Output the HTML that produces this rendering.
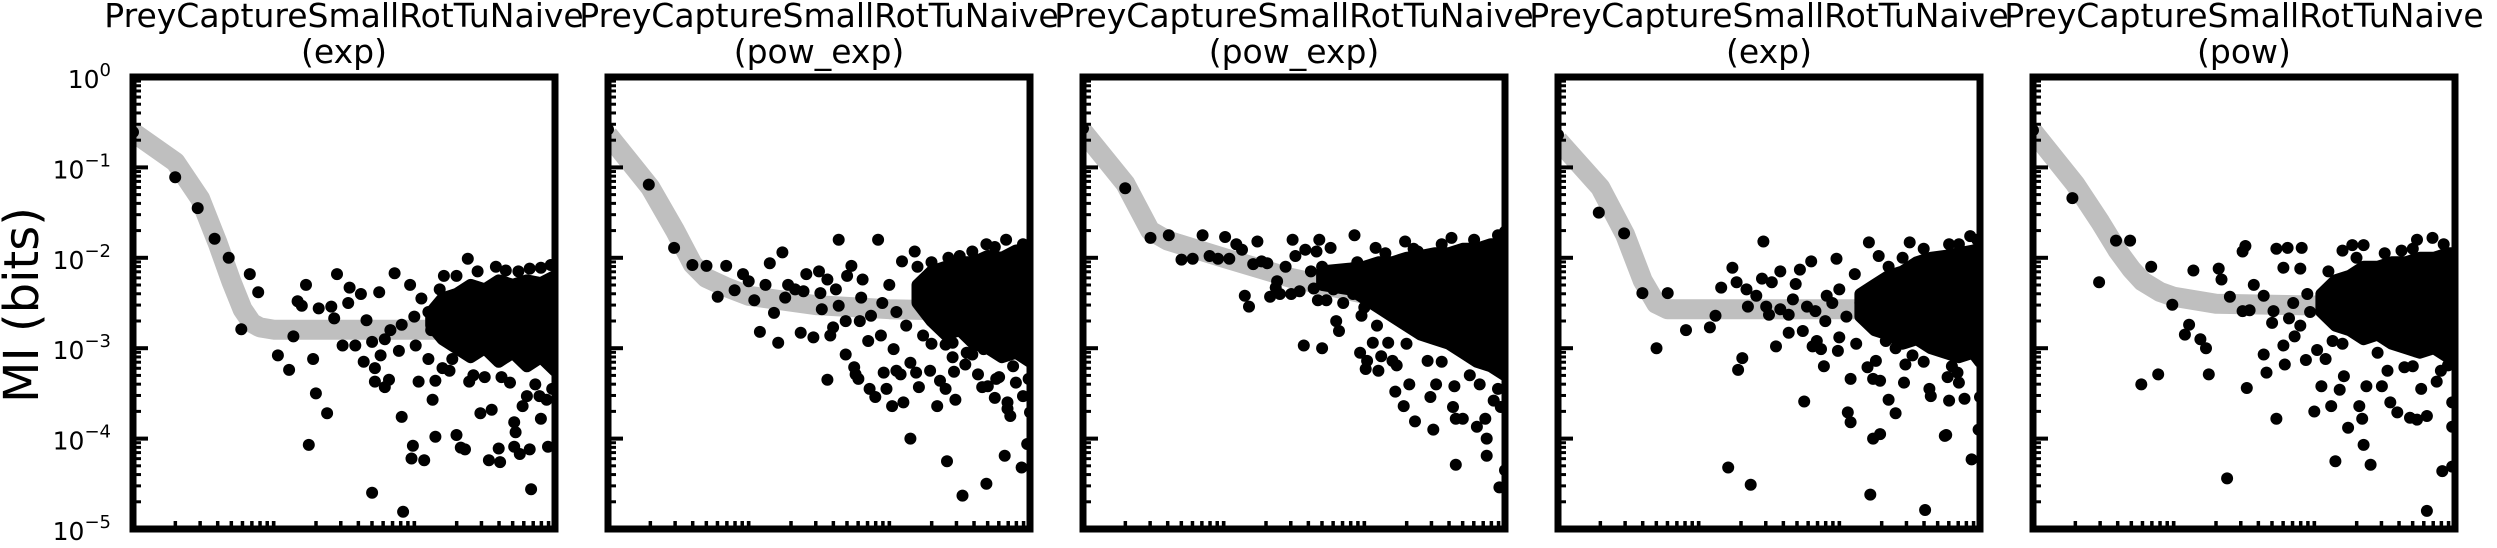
<!DOCTYPE html>
<html><head><meta charset="utf-8"><style>
html,body{margin:0;padding:0;background:#fff;}
svg{display:block;font-family:"DejaVu Sans","Liberation Sans",sans-serif;}
</style></head><body>
<svg id="chart" width="2497" height="548" viewBox="0 0 2497 548" xmlns="http://www.w3.org/2000/svg">
<text transform="translate(38,305) rotate(-90)" text-anchor="middle" font-size="48">MI (bits)</text>
</svg>
<script>
// ---- data ----
const panelTitles = ["(exp)","(pow_exp)","(pow_exp)","(exp)","(pow)"];
const datasetName = "PreyCaptureSmallRotTuNaive";
const yTickExps = [0,-1,-2,-3,-4,-5];

// fitted curves (lag, MI)
const curveLag1 = [1,2,3,4,5,6,7,8,10,1000];
const curveMI1  = [0.245,0.115,0.045,0.0145,0.0055,0.0027,0.0019,0.0017,0.0016,0.0016];
const curveLag2 = [1,2,3,4,5,7,10,30,100,1000];
const curveMI2  = [0.23,0.06,0.02,0.0085,0.006,0.0047,0.0038,0.003,0.0027,0.0025];
const curveLag3 = [1,2,3,4,10,30,100,300,1000];
const curveMI3  = [0.25,0.066,0.02,0.0155,0.01,0.006,0.004,0.0028,0.002];
const curveLag4 = [1,2,3,4,5,6,1000];
const curveMI4  = [0.2,0.06,0.018,0.0056,0.0031,0.0027,0.0027];
const curveLag5 = [1,2,3,4,5,6,8,10,20,1000];
const curveMI5  = [0.25,0.065,0.025,0.012,0.0075,0.0055,0.0042,0.0037,0.0031,0.0028];

// scatter points: [log10 lag, log10 MI]
const pts1 = [[0,-0.61],[.3,-1.11],[.46,-1.45],[.58,-1.79],[.68,-2.0],[.77,-2.79],[.83,-2.18],[.89,-2.38],[1.03,-3.08],[1.11,-3.24],[1.14,-2.87],[1.23,-2.3],[1.17,-2.48],[1.2,-2.53],[1.25,-4.07],[1.28,-3.12],[1.3,-3.5],[1.32,-2.56],[1.38,-3.72],[1.41,-2.54],[1.43,-2.67],[1.45,-2.18],[1.49,-2.97],[1.53,-2.5],[1.54,-2.33],[1.58,-2.97],[1.62,-2.4],[1.64,-3.15],[1.66,-2.69],[1.7,-2.93],[1.7,-4.6],[1.72,-3.22],[1.72,-3.37],[1.75,-2.38],[1.76,-3.08],[1.79,-2.9],[1.79,-3.43],[1.82,-3.35],[1.83,-2.8],[1.86,-2.17],[1.89,-3.03],[1.91,-3.76],[1.91,-2.74],[1.97,-2.3],[1.99,-4.08],[1.98,-4.22],[2.07,-4.24],[2.03,-3.37],[2.01,-2.97],[2.13,-3.57],[2.15,-3.98],[2.15,-3.36],[2.21,-2.2],[2.3,-3.96],[2.33,-4.1],[2.36,-4.12],[2.38,-2.01],[2.39,-3.37],[2.47,-3.72],[2.55,-3.68],[2.53,-4.24],[2.61,-4.26],[2.6,-4.11],[2.65,-2.14],[2.71,-3.82],[2.72,-3.93],[2.71,-4.09],[2.75,-4.17],[2.74,-2.15],[2.77,-3.64],[2.82,-4.12],[2.83,-4.56],[2.9,-2.11],[2.9,-3.78],[2.95,-4.09],[2.94,-3.57],[2.89,-3.53],[2.9,-3.09],[2.8,-3.53],[2.62,-3.32],[2.5,-3.32],[2.34,-3.03],[2.27,-3.12],[2.2,-3.22],[2.1,-3.12],[1.92,-4.81],[2.05,-2.45],[2.1,-2.6],[2.12,-2.8],[2.0,-2.65],[2.18,-2.35],[2.3,-2.2],[2.45,-2.15],[2.58,-2.1],[2.82,-2.12],[2.97,-2.08],[2.25,-3.25],[2.42,-3.3],[2.68,-3.38],[2.86,-3.4],[2.98,-3.45]];
const pts2 = [[0,-0.58],[.29,-1.19],[.47,-1.89],[.6,-2.08],[.7,-2.09],[.78,-2.43],[.84,-2.09],[.9,-2.36],[.96,-2.18],[1.0,-2.26],[1.04,-2.47],[1.08,-2.82],[1.12,-2.3],[1.15,-2.06],[1.18,-2.61],[1.21,-2.94],[1.24,-1.94],[1.28,-2.3],[1.26,-2.44],[1.33,-2.35],[1.37,-2.83],[1.39,-2.37],[1.41,-2.18],[1.46,-2.88],[1.5,-2.15],[1.51,-2.39],[1.52,-2.57],[1.56,-3.35],[1.56,-2.24],[1.58,-2.86],[1.6,-2.77],[1.62,-2.35],[1.64,-1.8],[1.64,-2.53],[1.69,-3.07],[1.69,-2.7],[1.7,-2.2],[1.73,-2.09],[1.75,-3.21],[1.76,-3.29],[1.78,-3.34],[1.79,-2.7],[1.8,-2.44],[1.81,-2.24],[1.85,-2.92],[1.86,-3.45],[1.9,-3.54],[1.92,-1.8],[1.87,-2.64],[1.94,-2.86],[1.96,-3.27],[1.98,-3.45],[2.02,-3.64],[2.03,-3.01],[2.05,-3.25],[2.08,-3.29],[2.1,-3.6],[2.09,-2.04],[2.15,-3.16],[2.15,-4.0],[2.18,-1.93],[2.19,-3.27],[2.21,-3.43],[2.24,-2.86],[2.29,-3.25],[2.34,-3.64],[2.36,-3.36],[2.4,-3.45],[2.41,-4.25],[2.42,-2.0],[2.45,-3.1],[2.46,-3.26],[2.47,-3.57],[2.52,-4.63],[2.54,-3.18],[2.59,-3.07],[2.63,-3.29],[2.66,-3.43],[2.69,-4.5],[2.7,-3.42],[2.75,-3.55],[2.78,-3.32],[2.82,-4.19],[2.84,-3.6],[2.84,-3.67],[2.86,-3.75],[2.9,-3.38],[2.94,-4.32],[2.95,-3.53],[2.98,-4.06],[3.0,-3.71],[2.83,-1.8],[2.69,-1.85],[2.59,-1.93],[2.99,-3.34],[2.76,-3.34],[2.67,-3.01],[2.45,-2.94],[2.4,-2.96],[1.95,-2.5],[2.0,-2.3],[2.05,-2.6],[2.12,-2.75],[2.2,-2.1],[2.3,-2.05],[2.5,-1.98],[2.75,-1.88],[2.95,-1.85],[2.3,-2.95],[2.55,-3.05],[2.88,-3.2]];
const pts3 = [[0,-0.57],[.3,-1.23],[.48,-1.78],[.61,-1.75],[.7,-2.02],[.78,-2.01],[.85,-1.75],[.9,-1.98],[.96,-2.01],[1.01,-1.77],[1.04,-2.01],[1.09,-1.85],[1.13,-1.91],[1.15,-2.42],[1.18,-2.54],[1.21,-2.07],[1.24,-1.82],[1.27,-2.04],[1.31,-2.06],[1.33,-2.43],[1.37,-2.33],[1.38,-2.26],[1.4,-2.4],[1.44,-2.1],[1.48,-2.4],[1.49,-1.8],[1.51,-1.98],[1.54,-2.37],[1.57,-2.97],[1.58,-1.91],[1.64,-2.34],[1.66,-1.93],[1.68,-1.8],[1.67,-2.47],[1.73,-2.47],[1.7,-3.0],[1.76,-1.89],[1.78,-2.35],[1.8,-2.7],[1.82,-2.81],[1.85,-2.5],[1.93,-1.75],[1.92,-2.4],[1.97,-3.05],[1.98,-2.64],[2.01,-3.23],[2.02,-3.14],[2.06,-2.94],[2.09,-2.75],[2.08,-1.89],[2.1,-3.25],[2.12,-3.09],[2.17,-2.94],[2.2,-3.14],[2.23,-3.19],[2.22,-3.48],[2.28,-3.64],[2.29,-1.82],[2.32,-3.4],[2.36,-3.81],[2.38,-1.93],[2.45,-3.14],[2.47,-3.54],[2.49,-3.9],[2.51,-3.4],[2.62,-1.78],[2.63,-3.65],[2.64,-3.42],[2.65,-3.78],[2.7,-3.78],[2.65,-4.29],[2.8,-3.87],[2.82,-3.4],[2.86,-3.78],[2.87,-4.0],[2.87,-4.19],[2.92,-3.58],[2.97,-3.65],[2.96,-4.54],[3.0,-4.35],[3.0,-1.71],[1.62,-2.15],[1.7,-2.1],[1.75,-2.2],[1.85,-2.15],[1.9,-2.25],[1.95,-2.05],[2.0,-2.55],[2.05,-2.3],[2.15,-1.95],[2.35,-1.9],[2.55,-1.85],[2.78,-1.8],[2.95,-1.75],[2.3,-2.95],[2.55,-3.15],[2.75,-3.3],[2.95,-3.45]];
const pts4 = [[0,-0.64],[.29,-1.5],[.47,-1.73],[.6,-2.39],[.7,-3.0],[.78,-2.39],[.91,-2.8],[1.08,-2.77],[1.12,-2.64],[1.16,-2.33],[1.21,-4.32],[1.24,-2.11],[1.27,-2.27],[1.28,-3.24],[1.31,-3.11],[1.34,-2.35],[1.35,-2.54],[1.37,-4.51],[1.41,-2.42],[1.45,-2.23],[1.46,-1.82],[1.48,-2.54],[1.5,-2.63],[1.52,-2.27],[1.55,-2.98],[1.58,-2.15],[1.58,-2.57],[1.64,-2.83],[1.64,-2.63],[1.67,-2.46],[1.69,-2.29],[1.72,-2.13],[1.74,-2.81],[1.75,-3.59],[1.77,-2.54],[1.8,-2.04],[1.81,-2.98],[1.84,-2.92],[1.87,-3.01],[1.83,-2.59],[1.89,-3.2],[1.91,-2.42],[1.98,-2.01],[1.99,-3.03],[2.0,-2.88],[2.06,-3.71],[2.08,-3.82],[2.08,-3.34],[2.11,-2.18],[2.12,-2.95],[2.2,-3.21],[2.21,-1.83],[2.24,-4.0],[2.29,-3.95],[2.22,-4.62],[2.24,-3.34],[2.29,-3.36],[2.26,-3.14],[2.28,-1.98],[2.35,-3.57],[2.33,-2.92],[2.4,-3.72],[2.46,-3.38],[2.47,-3.18],[2.5,-1.83],[2.52,-3.08],[2.61,-4.79],[2.64,-3.45],[2.65,-3.53],[2.75,-3.97],[2.76,-3.96],[2.78,-3.58],[2.77,-3.32],[2.89,-3.56],[2.94,-4.23],[2.99,-3.9],[3.0,-3.54],[2.93,-1.76],[2.78,-1.85],[2.84,-3.27],[2.85,-3.38],[1.95,-2.5],[2.0,-2.35],[2.05,-2.65],[2.15,-2.5],[1.9,-2.7],[2.35,-2.1],[2.45,-2.0],[2.6,-1.9],[2.85,-1.85],[2.98,-1.8],[2.4,-3.0],[2.6,-3.15],[2.8,-3.2]];
const pts5 = [[0,-0.59],[.28,-1.34],[.47,-2.27],[.59,-1.81],[.69,-1.81],[.77,-3.4],[.84,-2.1],[.89,-3.29],[.99,-2.52],[1.08,-2.85],[1.11,-2.74],[1.14,-2.14],[1.19,-2.9],[1.23,-3.0],[1.25,-3.29],[1.32,-2.12],[1.34,-2.24],[1.38,-4.44],[1.4,-2.43],[1.49,-1.93],[1.51,-1.87],[1.49,-2.59],[1.54,-2.58],[1.52,-3.44],[1.57,-2.3],[1.64,-2.42],[1.64,-3.07],[1.66,-3.27],[1.7,-2.72],[1.71,-2.59],[1.73,-3.78],[1.73,-1.9],[1.81,-1.89],[1.78,-2.97],[1.79,-3.18],[1.78,-2.11],[1.82,-2.67],[1.86,-2.87],[1.9,-2.12],[1.91,-1.89],[1.94,-3.13],[2.0,-3.7],[2.02,-3.02],[2.05,-3.42],[2.08,-3.12],[2.12,-3.64],[2.13,-2.92],[2.15,-4.25],[2.18,-3.46],[2.2,-1.92],[2.21,-3.31],[2.24,-3.88],[2.27,-1.86],[2.32,-3.64],[2.34,-3.78],[2.35,-4.07],[2.35,-1.86],[2.4,-4.29],[2.37,-3.42],[2.48,-3.42],[2.54,-3.6],[2.59,-3.71],[2.62,-1.92],[2.68,-3.77],[2.73,-3.79],[2.73,-1.8],[2.8,-3.75],[2.8,-4.8],[2.84,-1.78],[2.91,-4.36],[2.95,-3.19],[2.98,-3.87],[2.98,-4.31],[2.98,-3.6],[2.87,-3.37],[2.76,-3.45],[2.64,-3.21],[2.52,-3.25],[1.85,-2.5],[1.9,-2.75],[1.95,-2.4],[1.97,-2.6],[2.1,-2.15],[2.3,-2.0],[2.5,-1.95],[2.7,-1.9],[2.92,-1.85],[2.2,-2.95],[2.45,-3.05],[2.7,-3.2],[2.9,-3.25]];

// dense-cloud envelopes: log10 lag, log10 MI top / bottom
const band1Lag = [2.12,2.2,2.3,2.4,2.5,2.6,2.7,2.8,2.9,3.0];
const band1Top = [-2.6,-2.45,-2.4,-2.3,-2.35,-2.25,-2.3,-2.25,-2.28,-2.2];
const band1Bot = [-2.75,-2.9,-3.0,-3.1,-3.0,-3.15,-3.05,-3.2,-3.1,-3.25];
const band2Lag = [2.2,2.3,2.4,2.5,2.6,2.7,2.8,2.9,3.0];
const band2Top = [-2.3,-2.15,-2.1,-2.05,-2.05,-1.98,-2.0,-1.92,-1.9];
const band2Bot = [-2.5,-2.7,-2.85,-2.8,-2.95,-3.0,-3.1,-3.05,-3.15];
const band3Lag = [1.7,1.9,2.0,2.1,2.2,2.3,2.4,2.5,2.6,2.7,2.8,2.9,3.0];
const band3Top = [-2.15,-2.12,-2.1,-2.05,-2.05,-2.0,-1.98,-1.95,-1.95,-1.9,-1.9,-1.85,-1.85];
const band3Bot = [-2.3,-2.35,-2.45,-2.55,-2.65,-2.75,-2.85,-2.9,-2.95,-3.05,-3.15,-3.2,-3.3];
const band4Lag = [2.15,2.25,2.35,2.45,2.55,2.65,2.75,2.85,2.95,3.0];
const band4Top = [-2.4,-2.3,-2.2,-2.15,-2.05,-2.0,-1.98,-1.95,-1.92,-1.9];
const band4Bot = [-2.65,-2.8,-2.85,-2.95,-2.9,-3.0,-3.05,-3.1,-3.05,-3.15];
const band5Lag = [2.05,2.15,2.25,2.35,2.45,2.55,2.65,2.75,2.85,2.95,3.0];
const band5Top = [-2.4,-2.25,-2.2,-2.1,-2.1,-2.05,-2.05,-2.0,-2.0,-1.95,-1.95];
const band5Bot = [-2.6,-2.75,-2.8,-2.9,-2.85,-2.95,-3.0,-3.05,-3.0,-3.1,-3.1];

const curvesLag = [curveLag1,curveLag2,curveLag3,curveLag4,curveLag5];
const curvesMI = [curveMI1,curveMI2,curveMI3,curveMI4,curveMI5];
const allPts = [pts1,pts2,pts3,pts4,pts5];
const bandsLag = [band1Lag,band2Lag,band3Lag,band4Lag,band5Lag];
const bandsTop = [band1Top,band2Top,band3Top,band4Top,band5Top];
const bandsBot = [band1Bot,band2Bot,band3Bot,band4Bot,band5Bot];

// ---- layout ----
const NS = "http://www.w3.org/2000/svg";
const svg = document.getElementById("chart");
const X0 = 133, PW = 422, GAP = 475, YT = 77, YB = 529;
function mk(tag, attrs, parent){const e=document.createElementNS(NS,tag);for(const k in attrs)e.setAttribute(k,attrs[k]);(parent||svg).appendChild(e);return e;}
function xLog(i, lx){return X0 + i*GAP + lx/3*PW;}
function yLog(ly){return YT + (-ly)/5*(YB-YT);}
function xScale(i, v){return xLog(i, Math.log10(v));}
function yScale(v){return yLog(Math.log10(v));}

const defs = mk("defs",{});
for (let i=0;i<5;i++){
  const cp = mk("clipPath",{id:"clip"+i},defs);
  mk("rect",{x:X0+i*GAP,y:YT,width:PW,height:YB-YT},cp);
}

for (let i=0;i<5;i++){
  const L = X0 + i*GAP;
  const g = mk("g",{});
  
  

  const t = mk("text",{x:L+PW/2,y:27,"text-anchor":"middle","font-size":"33"},g);
  
  
  t.textContent = datasetName;
  const t2 = mk("text",{x:L+PW/2,y:63,"text-anchor":"middle","font-size":"33"},g);
  
  
  t2.textContent = panelTitles[i];

  const plot = mk("g",{"clip-path":"url(#clip"+i+")"},g);
  const cl = curvesLag[i], cm = curvesMI[i];
  let d = "";
  for (let k=0;k<cl.length;k++) d += (k?"L":"M")+xScale(i,cl[k]).toFixed(1)+","+yScale(cm[k]).toFixed(1);
  const curve = mk("path",{d:d,fill:"none",stroke:"#bfbfbf","stroke-width":"20","stroke-linejoin":"round"},plot);
  
  

  const bl = bandsLag[i], bt = bandsTop[i], bb = bandsBot[i];
  let bd = "";
  for (let k=0;k<bl.length;k++) bd += (k?"L":"M")+xLog(i,bl[k]).toFixed(1)+","+yLog(bt[k]).toFixed(1);
  for (let k=bl.length-1;k>=0;k--) bd += "L"+xLog(i,bl[k]).toFixed(1)+","+yLog(bb[k]).toFixed(1);
  bd += "Z";
  const band = mk("path",{d:bd,fill:"#000",stroke:"#000","stroke-width":"12","stroke-linejoin":"round"},plot);
  
  

  for (const p of allPts[i]){
    const c = mk("circle",{cx:xLog(i,p[0]).toFixed(1),cy:yLog(p[1]).toFixed(1),r:"6",fill:"#000"},plot);
    
    
  }

  for (let e=0;e>=-5;e--){
    const yy = yLog(e);
    const tk = mk("line",{x1:L,x2:L+15,y1:yy,y2:yy,stroke:"#000","stroke-width":"4"},g);
    
    
    if (e>-5){
      for (let m=2;m<=9;m++){
        const ym = yLog(e-1+Math.log10(m));
        const mt = mk("line",{x1:L,x2:L+8,y1:ym,y2:ym,stroke:"#000","stroke-width":"3"},g);
        
        
      }
    }
  }
  for (let e=0;e<3;e++){
    for (let m=1;m<=10;m++){
      if (e===0 && m===1) continue;
      const xx = xLog(i, e+Math.log10(m));
      const xt = mk("line",{x1:xx,x2:xx,y1:YB,y2:YB-8,stroke:"#000","stroke-width":"3.5"},g);
      
      
    }
  }
  const fr = mk("rect",{x:L,y:YT,width:PW,height:YB-YT,fill:"none",stroke:"#000","stroke-width":"7"},g);
  
  
}

for (const e of yTickExps){
  const yy = yLog(e);
  const lab = mk("text",{x:111,y:yy+11,"text-anchor":"end","font-size":"25"});
  
  
  const a = mk("tspan",{},lab); a.textContent = "10";
  const b = mk("tspan",{dy:"-12","font-size":"18"},lab); b.textContent = e===0 ? "0" : "\u2212"+(-e);
}
</script>
</body></html>
